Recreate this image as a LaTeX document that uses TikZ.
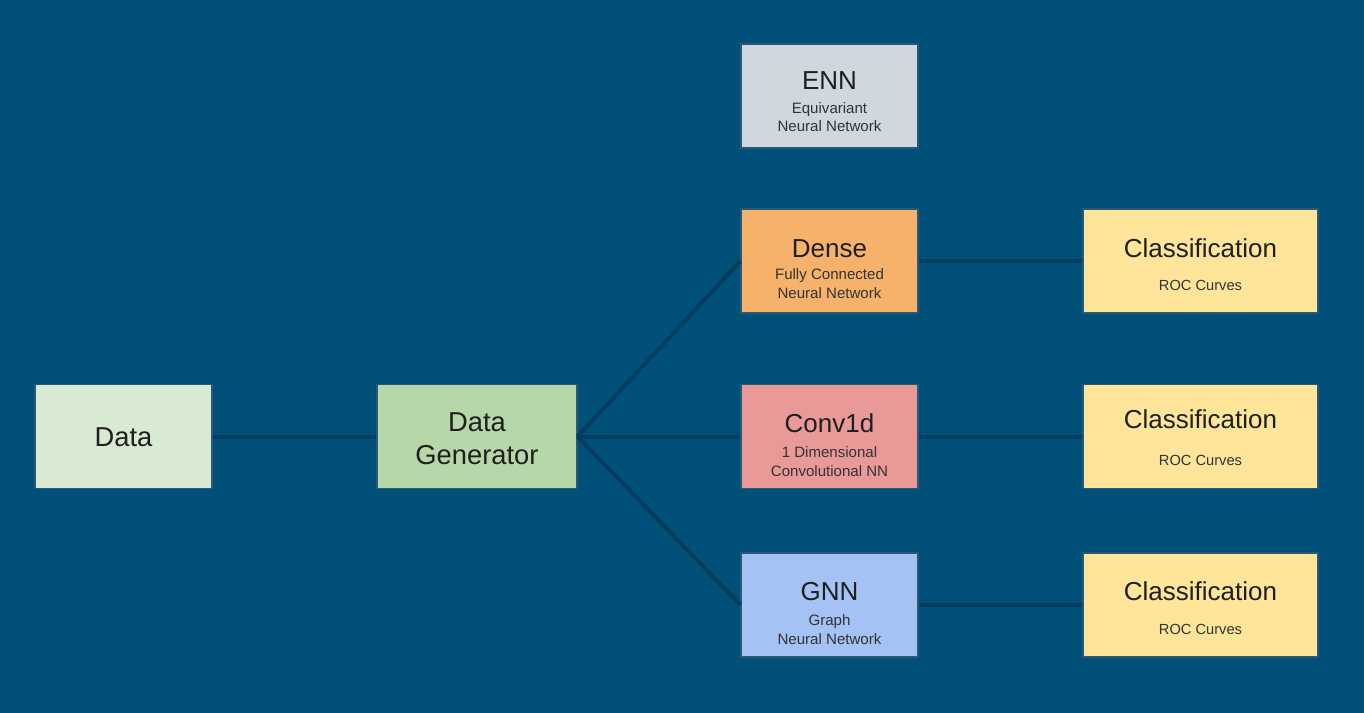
\documentclass[tikz,border=0pt]{standalone}
\usepackage{fontspec}
\setmainfont{Liberation Sans}
\definecolor{bg}{HTML}{01507A}
\definecolor{wire}{HTML}{043E5F}
\definecolor{edge}{HTML}{2B5873}
\definecolor{cENN}{HTML}{CFD8DE}
\definecolor{cDense}{HTML}{F6B26B}
\definecolor{cConv}{HTML}{EA9999}
\definecolor{cGNN}{HTML}{A4C2F4}
\definecolor{cClass}{HTML}{FFE599}
\definecolor{cData}{HTML}{D9EAD3}
\definecolor{cGen}{HTML}{B6D7A8}
\tikzset{
  box/.style={draw=edge, line width=0.8pt, minimum width=132.75pt, minimum height=78pt, inner sep=0pt},
  wirestyle/.style={draw=wire, line width=3pt},
  lbl/.style={inner sep=0pt, text height=0.72em, text depth=0pt, text=black!88, anchor=center},
  ttl/.style={lbl, yshift=-3.4pt, font=\fontsize{19.5}{24}\selectfont},
  big/.style={lbl, yshift=-3.4pt, font=\fontsize{20.5}{24}\selectfont},
  sbt/.style={lbl, yshift=-1pt, font=\fontsize{11.3}{14}\selectfont, text=black!80},
  roc/.style={lbl, yshift=-0.8pt, font=\fontsize{11}{14}\selectfont, text=black!80},
}
\begin{document}
\begin{tikzpicture}[x=0.75pt,y=-0.75pt]
\fill[bg] (0,0) rectangle (1364,713);
\useasboundingbox (0,0) rectangle (1364,713);

\node[box, fill=cData] (data) at (123.5,436.5) {};
\node[box, fill=cGen, minimum width=150pt] (gen) at (477,436.5) {};
\node[box, fill=cENN] (enn) at (829.5,96) {};
\node[box, fill=cDense] (dense) at (829.5,261) {};
\node[box, fill=cConv] (conv) at (829.5,436.5) {};
\node[box, fill=cGNN] (gnn) at (829.5,605) {};
\node[box, fill=cClass, minimum width=176.25pt] (cl1) at (1200.5,261) {};
\node[box, fill=cClass, minimum width=176.25pt] (cl2) at (1200.5,436.5) {};
\node[box, fill=cClass, minimum width=176.25pt] (cl3) at (1200.5,605) {};

\node[big] (tdata) at (123.5,437) {Data};
\node[big] (tgen1) at (477,422.5) {Data};
\node[big] (tgen2) at (477,455.5) {Generator};

\node[ttl] (tenn) at (829.5,80) {ENN};
\node[sbt] (senn1) at (829.5,107) {Equivariant};
\node[sbt] (senn2) at (829.5,125.5) {Neural Network};

\node[ttl] (tdense) at (829.5,248) {Dense};
\node[sbt] (sdense1) at (829.5,273) {Fully Connected};
\node[sbt] (sdense2) at (829.5,292) {Neural Network};

\node[ttl] (tconv) at (829.5,423) {Conv1d};
\node[sbt] (sconv1) at (829.5,451.5) {1 Dimensional};
\node[sbt] (sconv2) at (829.5,470) {Convolutional NN};

\node[ttl] (tgnn) at (829.5,591) {GNN};
\node[sbt] (sgnn1) at (829.5,619.5) {Graph};
\node[sbt] (sgnn2) at (829.5,638) {Neural Network};

\node[ttl] (tcl1) at (1200.5,248) {Classification};
\node[roc] (rcl1) at (1200.5,285) {ROC Curves};
\node[ttl] (tcl2) at (1200.5,419) {Classification};
\node[roc] (rcl2) at (1200.5,460) {ROC Curves};
\node[ttl] (tcl3) at (1200.5,591) {Classification};
\node[roc] (rcl3) at (1200.5,629) {ROC Curves};

\draw[wirestyle] (data.east) -- (gen.west);
\draw[wirestyle] (gen.east) -- (dense.west);
\draw[wirestyle] (gen.east) -- (conv.west);
\draw[wirestyle] (gen.east) -- (gnn.west);
\draw[wirestyle] (dense.east) -- (cl1.west);
\draw[wirestyle] (conv.east) -- (cl2.west);
\draw[wirestyle] (gnn.east) -- (cl3.west);
\end{tikzpicture}
\end{document}
